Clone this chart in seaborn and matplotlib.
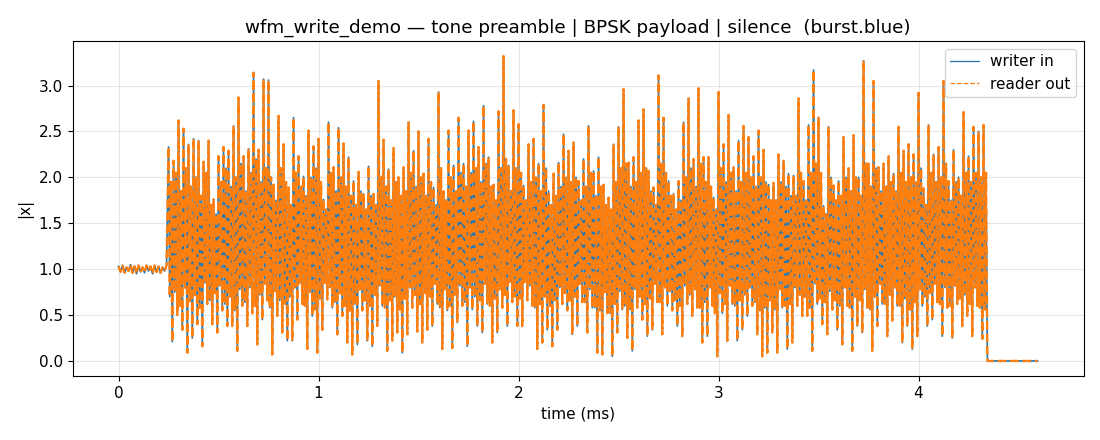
import numpy as np
import pandas as pd
import matplotlib
matplotlib.use("Agg")
import matplotlib.pyplot as plt
import seaborn as sns

# values (|x|, time in ms)

# tone preamble, 0 .. 0.24 ms, step 0.01 ms
tone_vals = [1.03, 0.97, 1.04, 0.96, 1.02, 0.98, 1.05, 0.96, 1.03, 0.95,
             1.04, 0.97, 1.02, 0.96, 1.04, 0.98, 1.03, 0.95, 1.04, 0.97,
             1.03, 0.96, 1.02, 0.98, 1.04]

# BPSK payload, one 0.025 ms column each from 0.25 ms:
# outer peak, inner band bottom, inner band top, outer dip
payload_hi = [2.33, 2.18, 2.62, 2.53, 2.36, 2.42, 2.40, 2.17, 2.40, 1.76,
              2.23, 2.33, 2.29, 2.56, 2.87, 2.23, 2.31, 3.14, 2.30, 3.07,
              3.06, 1.92, 2.67, 2.36, 1.89, 2.65, 2.23, 2.01, 2.51, 2.34,
              2.42, 1.76, 2.60, 2.11, 2.54, 2.37, 2.22, 1.96, 2.06, 1.82,
              2.12, 1.82, 3.05, 2.41, 2.09, 2.32, 2.00, 2.11, 2.60, 2.29,
              2.50, 2.04, 2.42, 1.89, 2.93, 1.85, 2.51, 2.13, 2.65, 2.15,
              2.51, 2.61, 2.33, 2.78, 2.22, 1.92, 2.72, 3.32, 2.13, 2.73,
              2.58, 1.91, 2.36, 2.42, 2.15, 2.79, 1.85, 2.04, 2.16, 2.47,
              2.29, 2.38, 1.96, 2.20, 2.56, 2.07, 2.22, 1.92, 1.78, 2.36,
              2.55, 2.96, 2.16, 2.22, 2.62, 2.74, 2.07, 1.89, 3.11, 2.65,
              1.96, 1.82, 1.96, 2.60, 2.86, 2.20, 2.97, 2.22, 2.22, 1.78,
              2.93, 2.36, 2.68, 2.11, 2.40, 2.56, 2.44, 2.23, 2.51, 2.30,
              1.92, 1.94, 2.25, 2.18, 2.04, 2.02, 2.86, 1.96, 2.57, 3.17,
              2.65, 1.69, 2.55, 1.91, 1.96, 2.44, 2.10, 2.46, 2.00, 3.27,
              2.15, 3.05, 2.11, 2.15, 2.23, 2.04, 2.55, 2.29, 2.36, 2.25,
              2.92, 1.88, 2.57, 2.25, 2.33, 3.05, 1.96, 2.30, 2.00, 2.71,
              2.23, 2.55, 2.50, 2.57]
payload_mid_lo = [0.70, 0.75, 0.60, 0.80, 0.65, 0.72, 0.58, 0.85, 0.66, 0.74,
                  0.82, 0.62, 0.70, 0.55, 0.78, 0.64, 0.80, 0.60, 0.72, 0.84,
                  0.58, 0.76, 0.66, 0.62, 0.70, 0.80, 0.85, 0.60, 0.75, 0.56,
                  0.68, 0.85, 0.80, 0.64, 0.74, 0.60, 0.55, 0.62, 0.78, 0.66,
                  0.60, 0.72, 0.82, 0.58, 0.66, 0.70, 0.56, 0.68, 0.80, 0.72,
                  0.62, 0.74, 0.70, 0.84, 0.58, 0.78, 0.60, 0.72, 0.82, 0.64,
                  0.80, 0.70, 0.66, 0.84, 0.60, 0.68, 0.78, 0.72, 0.86, 0.70,
                  0.68, 0.86, 0.82, 0.58, 0.62, 0.70, 0.60, 0.66, 0.80, 0.74,
                  0.66, 0.70, 0.84, 0.64, 0.78, 0.58, 0.55, 0.75, 0.52, 0.62,
                  0.76, 0.60, 0.56, 0.78, 0.70, 0.62, 0.68, 0.84, 0.64, 0.80,
                  0.76, 0.66, 0.60, 0.82, 0.72, 0.78, 0.58, 0.64, 0.80, 0.52,
                  0.74, 0.62, 0.82, 0.60, 0.66, 0.72, 0.80, 0.64, 0.55, 0.58,
                  0.66, 0.56, 0.78, 0.60, 0.62, 0.80, 0.72, 0.70, 0.58, 0.84,
                  0.68, 0.64, 0.76, 0.66, 0.60, 0.80, 0.58, 0.70, 0.66, 0.78,
                  0.56, 0.70, 0.84, 0.62, 0.72, 0.80, 0.60, 0.68, 0.56, 0.64,
                  0.78, 0.70, 0.74, 0.84, 0.62, 0.80, 0.60, 0.82, 0.68, 0.72,
                  0.62, 0.80, 0.58, 0.56]
payload_mid_hi = [1.95, 2.05, 1.85, 2.10, 1.90, 2.00, 1.80, 2.05, 1.70, 1.60,
                  1.95, 2.10, 1.90, 2.00, 2.15, 1.85, 2.05, 2.20, 1.95, 2.10,
                  2.00, 1.75, 2.10, 1.95, 1.70, 2.05, 1.90, 1.80, 2.00, 2.10,
                  1.95, 1.65, 2.05, 1.85, 2.00, 1.90, 1.80, 1.70, 1.85, 1.65,
                  1.80, 1.70, 2.00, 1.90, 1.75, 1.95, 1.80, 1.85, 2.05, 1.90,
                  2.00, 1.80, 1.95, 1.70, 2.10, 1.75, 2.00, 1.85, 2.05, 1.90,
                  2.05, 2.10, 1.95, 2.15, 1.90, 1.75, 2.10, 2.20, 1.85, 2.10,
                  2.05, 1.75, 1.95, 2.00, 1.85, 2.10, 1.70, 1.80, 1.90, 2.00,
                  1.95, 2.00, 1.75, 1.90, 2.05, 1.80, 1.90, 1.70, 1.65, 1.95,
                  2.10, 2.15, 1.90, 1.95, 2.05, 2.10, 1.85, 1.70, 2.15, 2.05,
                  1.80, 1.65, 1.75, 2.00, 2.10, 1.90, 2.15, 1.95, 1.90, 1.65,
                  2.10, 1.95, 2.05, 1.85, 1.95, 2.05, 2.00, 1.90, 2.00, 1.95,
                  1.75, 1.75, 1.95, 1.90, 1.80, 1.80, 2.05, 1.75, 2.05, 2.15,
                  2.05, 1.60, 2.00, 1.75, 1.80, 2.00, 1.85, 2.00, 1.80, 2.15,
                  1.90, 2.10, 1.85, 1.90, 1.95, 1.85, 2.05, 1.95, 2.00, 1.95,
                  2.10, 1.70, 2.05, 1.95, 2.00, 2.15, 1.75, 1.95, 1.80, 2.05,
                  1.95, 2.05, 2.00, 2.05]
payload_lo = [0.21, 0.50, 0.34, 0.09, 0.25, 0.40, 0.16, 0.62, 0.40, 0.31,
              0.55, 0.38, 0.38, 0.11, 0.60, 0.38, 0.52, 0.18, 0.45, 0.66,
              0.07, 0.49, 0.31, 0.22, 0.22, 0.45, 0.62, 0.13, 0.49, 0.09,
              0.34, 0.67, 0.58, 0.29, 0.49, 0.20, 0.07, 0.18, 0.55, 0.22,
              0.16, 0.38, 0.60, 0.11, 0.22, 0.31, 0.09, 0.29, 0.58, 0.32,
              0.20, 0.34, 0.38, 0.62, 0.13, 0.55, 0.14, 0.42, 0.60, 0.16,
              0.56, 0.38, 0.31, 0.62, 0.20, 0.31, 0.58, 0.38, 0.64, 0.38,
              0.38, 0.66, 0.60, 0.13, 0.20, 0.34, 0.16, 0.34, 0.62, 0.55,
              0.29, 0.38, 0.64, 0.31, 0.58, 0.09, 0.07, 0.52, 0.05, 0.31,
              0.56, 0.25, 0.11, 0.58, 0.45, 0.27, 0.34, 0.64, 0.29, 0.60,
              0.55, 0.38, 0.27, 0.62, 0.49, 0.58, 0.20, 0.27, 0.60, 0.05,
              0.52, 0.22, 0.62, 0.22, 0.34, 0.49, 0.60, 0.29, 0.05, 0.09,
              0.31, 0.09, 0.58, 0.13, 0.20, 0.60, 0.49, 0.49, 0.11, 0.62,
              0.40, 0.29, 0.56, 0.34, 0.18, 0.60, 0.11, 0.38, 0.31, 0.58,
              0.11, 0.38, 0.62, 0.27, 0.44, 0.60, 0.20, 0.38, 0.13, 0.27,
              0.60, 0.38, 0.45, 0.64, 0.27, 0.58, 0.25, 0.62, 0.38, 0.49,
              0.27, 0.60, 0.24, 0.09]

# silence tail, from 4.345 ms, step 0.025 ms
silence_vals = [0.0, 0.0, 0.0, 0.0, 0.0, 0.0, 0.0, 0.0, 0.0, 0.0, 0.0]

# build the time axis for each segment
col = 0.25 + np.arange(len(payload_hi)) * 0.025
t_pay = np.column_stack([col, col + 0.00625, col + 0.0125, col + 0.01875]).ravel()
v_pay = np.column_stack([payload_hi, payload_mid_lo, payload_mid_hi, payload_lo]).ravel()
t_tone = np.arange(len(tone_vals)) * 0.01
t_sil = 4.345 + np.arange(len(silence_vals)) * 0.025

df = pd.DataFrame({
    "t": np.concatenate([t_tone, t_pay, t_sil]),
    "x": np.concatenate([tone_vals, v_pay, silence_vals]),
})

plt.rcParams["font.size"] = 11

# plot writer input and reader output on top of each other

fig, ax = plt.subplots(figsize=(11, 4.4), dpi=100)
sns.lineplot(data=df, x="t", y="x", color="#1f77b4", linewidth=1.2,
             estimator=None, sort=False, ax=ax)
sns.lineplot(data=df, x="t", y="x", color="#ff7f0e", linewidth=1.7,
             linestyle="--", estimator=None, sort=False, ax=ax)

# legend handles keep the thin line look of the reference
ax.plot([], [], color="#1f77b4", linewidth=0.9, label="writer in")
ax.plot([], [], color="#ff7f0e", linewidth=0.9, linestyle="--", label="reader out")

ax.set_title("wfm_write_demo — tone preamble | BPSK payload | silence  (burst.blue)")
ax.set_xlabel("time (ms)")
ax.set_ylabel("|x|")
ax.grid(True, alpha=0.3)
ax.legend(loc="upper right", handlelength=1.9, handletextpad=0.7, borderpad=0.35)

fig.subplots_adjust(left=0.066, right=0.985, top=0.907, bottom=0.145)
fig.savefig("out.png")
